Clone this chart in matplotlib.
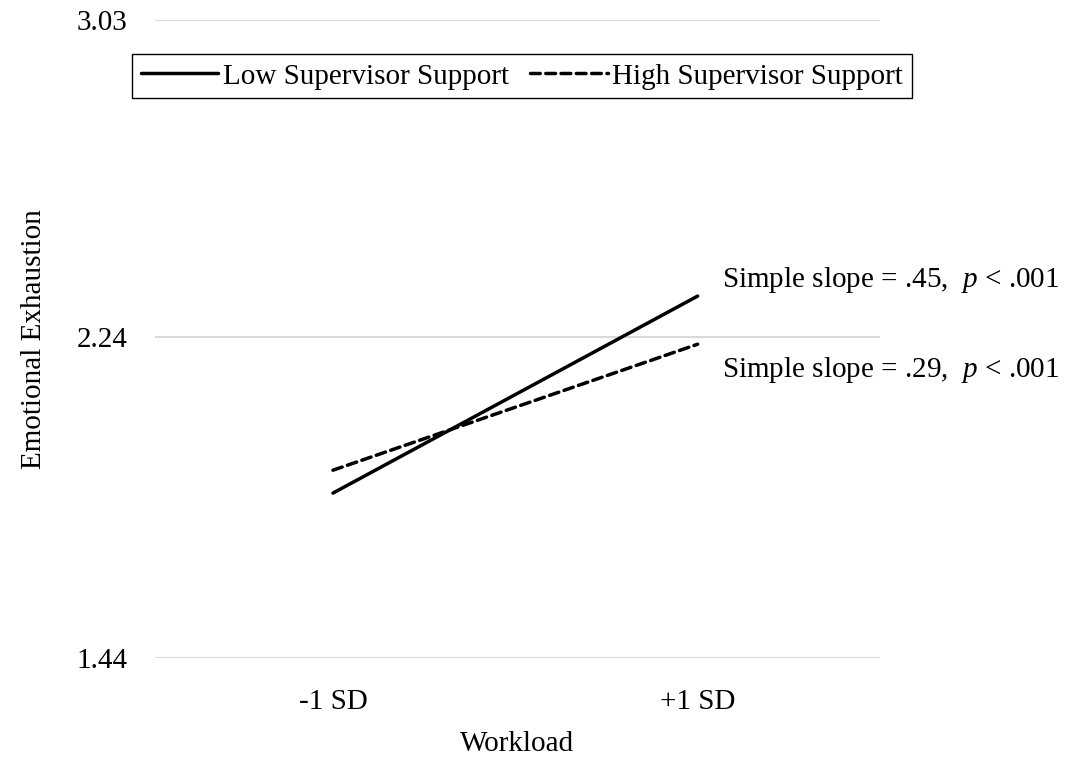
import matplotlib
matplotlib.use("Agg")
import matplotlib.pyplot as plt

categories = ["-1 SD", "+1 SD"]
low_support = [1.851, 2.342]
high_support = [1.908, 2.222]
yticks = [1.44, 2.24, 3.03]
series_labels = ["Low Supervisor Support", "High Supervisor Support"]
annotations = ["Simple slope = .45,  $p$ < .001", "Simple slope = .29,  $p$ < .001"]

plt.rcParams['font.family'] = ['Liberation Serif', 'DejaVu Serif']
plt.rcParams['mathtext.fontset'] = 'custom'
plt.rcParams['mathtext.rm'] = 'Liberation Serif'
plt.rcParams['mathtext.it'] = 'Liberation Serif:italic'

FS = 21
W, H = 1068, 760
fig = plt.figure(figsize=(W/100, H/100), dpi=100)
ax = fig.add_axes([155/W, (H-658)/H, 725/W, 638/H])

x = list(range(len(categories)))
ax.plot(x, low_support, color='black', lw=2.5, solid_capstyle='round', label=series_labels[0])
ax.plot(x, high_support, color='black', lw=2.5, dashes=(2.8, 1.6), dash_capstyle='round', label=series_labels[1])

ax.set_xlim(-0.488, 1.5)
ax.set_ylim(1.44, 3.03)
ax.set_yticks(yticks)
ax.set_yticklabels([f"{v:.2f}" for v in yticks])
ax.set_xticks(x)
ax.set_xticklabels(categories)
ax.grid(axis='y', color='#d9d9d9', lw=1.5)
ax.set_axisbelow(True)
for s in ax.spines.values():
    s.set_visible(False)
ax.tick_params(axis='both', length=0, labelsize=FS)
ax.tick_params(axis='y', pad=20)
ax.tick_params(axis='x', pad=22)
ax.set_xlabel("Workload", fontsize=FS, labelpad=12)
ax.set_ylabel("Emotional Exhaustion", fontsize=FS, labelpad=21)

leg = ax.legend(loc='upper center', bbox_to_anchor=(0.506, 0.946), ncol=2, fontsize=FS,
                frameon=True, fancybox=False, edgecolor='black', framealpha=1,
                handlelength=2.65, handletextpad=0.15, columnspacing=0.75,
                borderpad=0.3, borderaxespad=0)
leg.get_frame().set_linewidth(1.0)

ax.text(x[1] + 0.067, low_support[1] + 0.04, annotations[0], fontsize=FS, va='center', ha='left')
ax.text(x[1] + 0.067, high_support[1] - 0.065, annotations[1], fontsize=FS, va='center', ha='left')

fig.savefig("out.png", dpi=100)
